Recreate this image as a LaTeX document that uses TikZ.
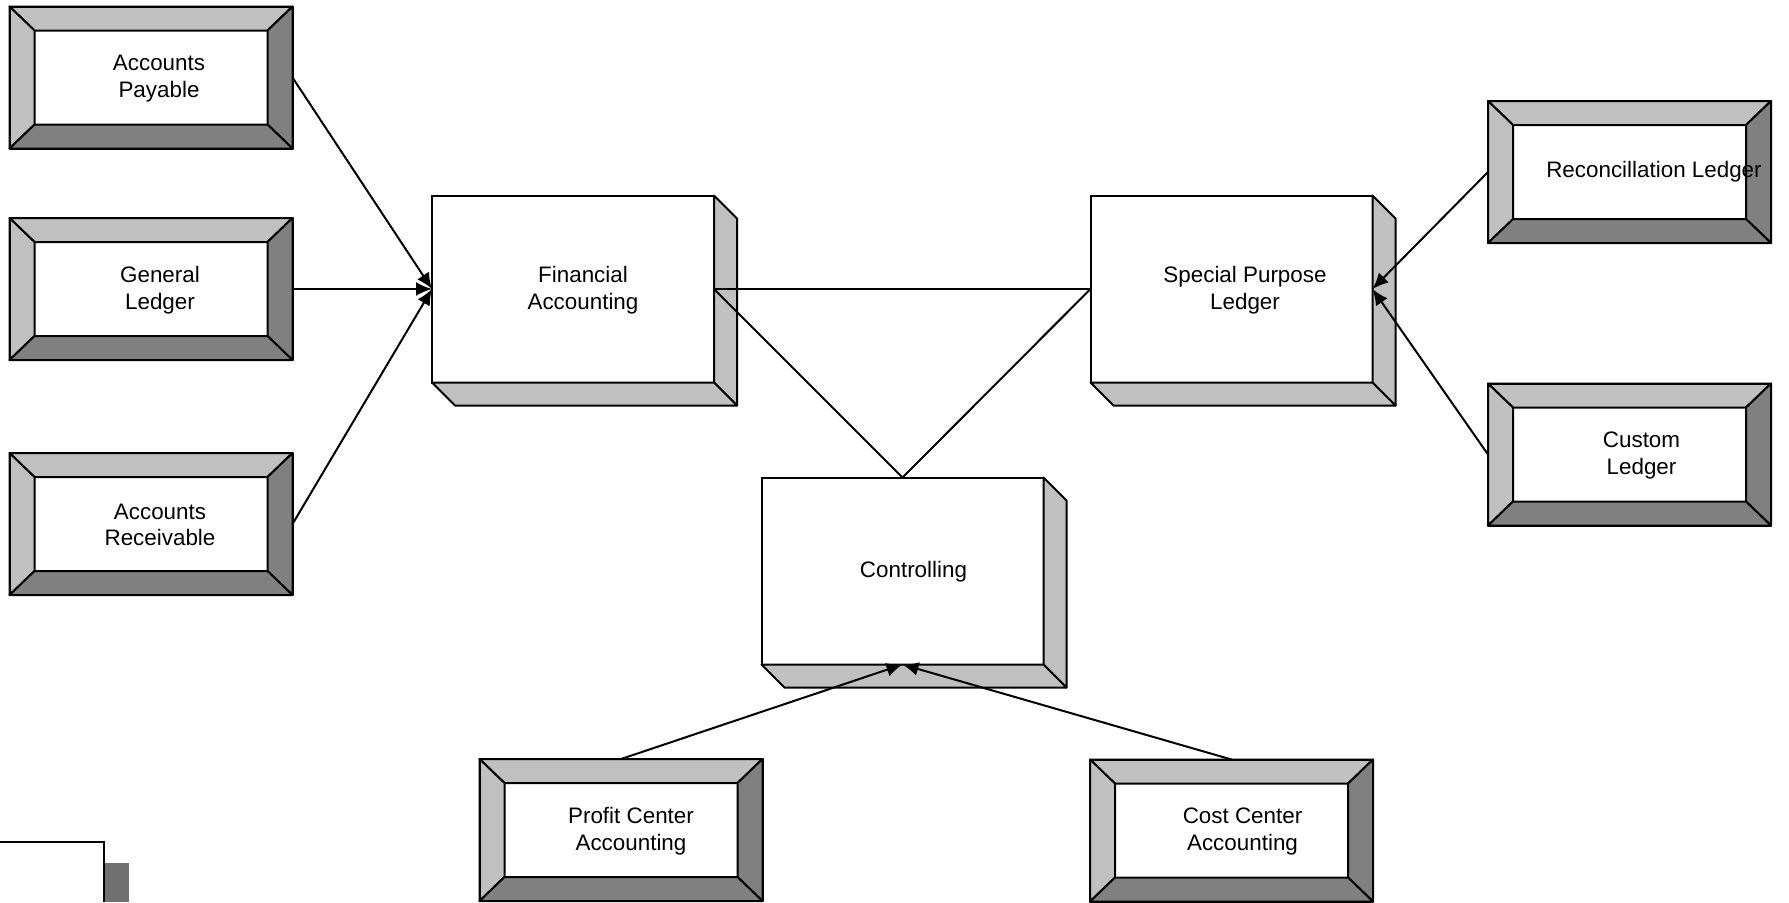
\documentclass[tikz,border=0pt]{standalone}
\usepackage{fontspec}
\setmainfont{Liberation Sans}
\usetikzlibrary{calc,arrows.meta}
\definecolor{lg}{RGB}{192,192,192}
\definecolor{dg}{RGB}{128,128,128}
\definecolor{fg}{RGB}{112,112,112}
\tikzset{
  bbox/.style={rectangle, inner sep=0pt, outer sep=0pt, minimum width=141.5pt, minimum height=71pt},
  cbox/.style={rectangle, inner sep=0pt, outer sep=0pt, minimum width=141pt, minimum height=93.5pt, draw, line width=1pt, fill=white},
  lbl/.style={align=center, font=\fontsize{11.2}{13.2}\selectfont, inner sep=0pt},
  edge/.style={line width=1pt},
  arr/.style={edge, -{Latex[length=8pt,width=7pt]}},
  face/.style={line width=1pt, line join=round, draw=black},
}
\newcommand\mybevel[1]{%
  \path[face, fill=lg] (#1.north west) -- (#1.north east) -- ($(#1.north east)+(-25,24)$) -- ($(#1.north west)+(25,24)$) -- cycle;
  \path[face, fill=lg] (#1.north west) -- ($(#1.north west)+(25,24)$) -- ($(#1.south west)+(25,-24)$) -- (#1.south west) -- cycle;
  \path[face, fill=dg] (#1.north east) -- ($(#1.north east)+(-25,24)$) -- ($(#1.south east)+(-25,-24)$) -- (#1.south east) -- cycle;
  \path[face, fill=dg] (#1.south west) -- ($(#1.south west)+(25,-24)$) -- ($(#1.south east)+(-25,-24)$) -- (#1.south east) -- cycle;
  \draw[face] (#1.north west) rectangle (#1.south east);
}
\newcommand\mycube[1]{%
  \path[face, fill=lg] (#1.north east) -- ++(23,23) -- ($(#1.south east)+(23,23)$) -- (#1.south east) -- cycle;
  \path[face, fill=lg] (#1.south west) -- ++(23,23) -- ($(#1.south east)+(23,23)$) -- (#1.south east) -- cycle;
}
\begin{document}
\begin{tikzpicture}[x=0.5pt, y=-0.5pt]
\useasboundingbox (0,0) rectangle (1789,902);

% bevelled boxes
\node[bbox] (ap) at (151,77.5) {};   \mybevel{ap}
\node[bbox] (gl) at (151,289) {};    \mybevel{gl}
\node[bbox] (ar) at (151,524) {};    \mybevel{ar}
\node[bbox] (rl) at (1629.5,172) {}; \mybevel{rl}
\node[bbox] (cl) at (1629.5,454.5) {}; \mybevel{cl}
\node[bbox] (pc) at (621,830) {};    \mybevel{pc}
\node[bbox] (cc) at (1231.5,830.5) {}; \mybevel{cc}

% 3D boxes
\node[cbox] (fa) at (573,289) {};   \mycube{fa}
\node[cbox] (sp) at (1231.5,289) {}; \mycube{sp}
\node[cbox] (ct) at (902.5,571) {};   \mycube{ct}

% labels
\node[lbl] (apt) at ($(ap.center)+(8,1)$) {Accounts\\Payable};
\node[lbl] (glt) at ($(gl.center)+(9,1)$) {General\\Ledger};
\node[lbl] (art) at ($(ar.center)+(9,1)$) {Accounts\\Receivable};
\node[lbl] (fat) at ($(fa.center)+(10,1)$) {Financial\\Accounting};
\node[lbl] (spt) at ($(sp.center)+(13.5,1)$) {Special Purpose\\Ledger};
\node[lbl] (ctt) at ($(ct.center)+(11,1)$) {Controlling};
\node[lbl] (rlt) at ($(rl.center)+(24.5,0)$) {Reconcillation Ledger};
\node[lbl] (clt) at ($(cl.center)+(12,1)$) {Custom\\Ledger};
\node[lbl] (pct) at ($(pc.center)+(10,1)$) {Profit Center\\Accounting};
\node[lbl] (cct) at ($(cc.center)+(11,1)$) {Cost Center\\Accounting};

% fragment bottom left
\fill[fg] (105,863) rectangle (129,902);
\draw[line width=1pt] (0,842) -- (104,842) -- (104,902);

% connectors
\draw[arr] (ap.east) -- (fa.west);
\draw[arr] (gl.east) -- (fa.west);
\draw[arr] (ar.east) -- (fa.west);
\draw[edge] (fa.east) -- (sp.west);
\draw[edge] (fa.east) -- (ct.north);
\draw[edge] (sp.west) -- (ct.north);
\draw[arr] (rl.west) -- (sp.east);
\draw[arr] (cl.west) -- (sp.east);
\draw[arr] (pc.north) -- (ct.south);
\draw[arr] (cc.north) -- (ct.south);
\end{tikzpicture}
\end{document}
